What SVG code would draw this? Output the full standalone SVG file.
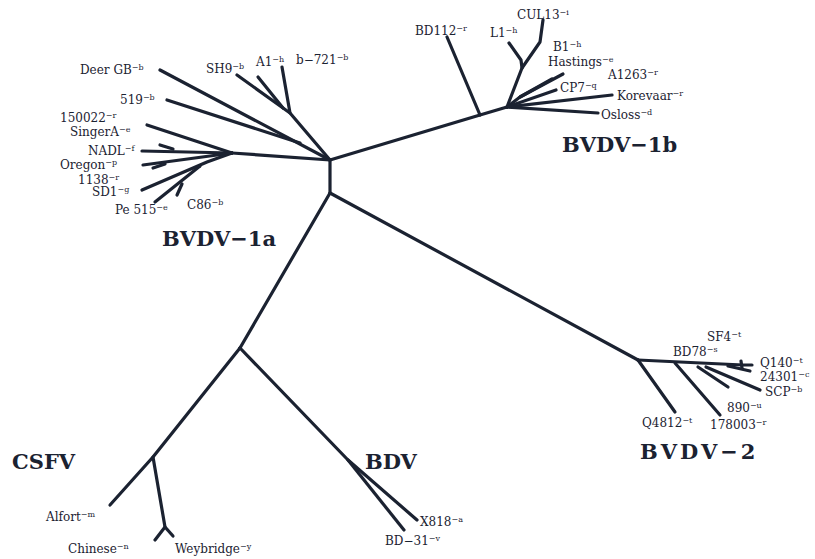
<svg xmlns="http://www.w3.org/2000/svg" width="815" height="559" viewBox="0 0 815 559">
<style>
.e{fill:none;stroke:#1b2231;stroke-width:3.2;stroke-linecap:round;stroke-linejoin:round}
.t{font-family:"DejaVu Serif","Liberation Serif",serif;font-size:12px;fill:#1b2231}
.s{font-size:8px}
.g{font-family:"DejaVu Serif","Liberation Serif",serif;font-size:21px;font-weight:bold;fill:#1b2231}
</style>
<rect width="815" height="559" fill="#fff"/>
<g id="connectors" class="e">
<path d="M330,160 L330,193"/>
<path d="M330,160 L480,115 L507,107"/>
<path d="M330,193 L240,348"/>
<path d="M330,193 L638,360"/>
<path d="M160,70 L330,160"/>
<path d="M167,100 L300,143"/>
<path d="M330,160 L290,113 L237,75"/>
<path d="M258,77 L283,108"/>
<path d="M282,67 L290,113"/>
<path d="M232,153 L330,160"/>
<path d="M147,125 L232,153"/>
<path d="M142,151 L232,153"/>
<path d="M160,145 L173,149"/>
<path d="M143,165 L232,153"/>
<path d="M153,168 L165,164"/>
<path d="M142,190 L207,162 L232,153"/>
<path d="M155,202 L200,166"/>
<path d="M177,195 L182,184"/>
<path d="M480,115 L447,37"/>
<path d="M507,107 L522,68 L540,42 L543,20"/>
<path d="M509,43 L521,60 L522,68"/>
<path d="M507,107 L520,97 L552,79"/>
<path d="M520,97 L563,74"/>
<path d="M507,107 L556,90"/>
<path d="M507,107 L612,95"/>
<path d="M507,107 L598,113"/>
<path d="M638,360 L675,412"/>
<path d="M638,360 L743,365 L752,365"/>
<path d="M675,363 L720,415"/>
<path d="M698,367 L728,387"/>
<path d="M706,367 L760,390"/>
<path d="M728,366 L750,371"/>
<path d="M741,361 L742,368"/>
<path d="M240,348 L153,457 L110,505"/>
<path d="M153,457 L165,527 L155,540"/>
<path d="M165,527 L173,536"/>
<path d="M240,348 L348,460 L417,520"/>
<path d="M348,460 L404,530"/>
</g>
<g id="deer"><text class="t" x="80" y="74">Deer GB<tspan class="s" dy="-4">−b</tspan></text></g>
<g id="sh9"><text class="t" x="206" y="73">SH9<tspan class="s" dy="-4">−b</tspan></text></g>
<g id="a1"><text class="t" x="256" y="66">A1<tspan class="s" dy="-4">−h</tspan></text></g>
<g id="b721"><text class="t" x="296" y="64">b−721<tspan class="s" dy="-4">−b</tspan></text></g>
<g id="n519"><text class="t" x="120" y="104">519<tspan class="s" dy="-4">−b</tspan></text></g>
<g id="n150022"><text class="t" x="60" y="122">150022<tspan class="s" dy="-4">−r</tspan></text></g>
<g id="singera"><text class="t" x="70" y="136">SingerA<tspan class="s" dy="-4">−e</tspan></text></g>
<g id="nadl"><text class="t" x="88" y="155">NADL<tspan class="s" dy="-4">−f</tspan></text></g>
<g id="oregon"><text class="t" x="60" y="169">Oregon<tspan class="s" dy="-4">−p</tspan></text></g>
<g id="n1138"><text class="t" x="78" y="184">1138<tspan class="s" dy="-4">−r</tspan></text></g>
<g id="sd1"><text class="t" x="92" y="196">SD1<tspan class="s" dy="-4">−g</tspan></text></g>
<g id="pe515"><text class="t" x="115" y="214">Pe 515<tspan class="s" dy="-4">−e</tspan></text></g>
<g id="c86"><text class="t" x="187" y="209">C86<tspan class="s" dy="-4">−b</tspan></text></g>
<g id="bvdv1a"><text class="g" x="162" y="246">BVDV−1a</text></g>
<g id="bd112"><text class="t" x="415" y="35">BD112<tspan class="s" dy="-4">−r</tspan></text></g>
<g id="cul13"><text class="t" x="517" y="19">CUL13<tspan class="s" dy="-4">−i</tspan></text></g>
<g id="l1"><text class="t" x="490" y="37">L1<tspan class="s" dy="-4">−h</tspan></text></g>
<g id="b1"><text class="t" x="553" y="51">B1<tspan class="s" dy="-4">−h</tspan></text></g>
<g id="hastings"><text class="t" x="548" y="66">Hastings<tspan class="s" dy="-4">−e</tspan></text></g>
<g id="a1263"><text class="t" x="608" y="79">A1263<tspan class="s" dy="-4">−r</tspan></text></g>
<g id="cp7"><text class="t" x="560" y="92">CP7<tspan class="s" dy="-4">−q</tspan></text></g>
<g id="korevaar"><text class="t" x="617" y="100">Korevaar<tspan class="s" dy="-4">−r</tspan></text></g>
<g id="osloss"><text class="t" x="601" y="119">Osloss<tspan class="s" dy="-4">−d</tspan></text></g>
<g id="bvdv1b"><text class="g" x="562" y="152">BVDV−1b</text></g>
<g id="sf4"><text class="t" x="707" y="341">SF4<tspan class="s" dy="-4">−t</tspan></text></g>
<g id="bd78"><text class="t" x="673" y="356">BD78<tspan class="s" dy="-4">−s</tspan></text></g>
<g id="q140"><text class="t" x="760" y="367">Q140<tspan class="s" dy="-4">−t</tspan></text></g>
<g id="n24301"><text class="t" x="760" y="381">24301<tspan class="s" dy="-4">−c</tspan></text></g>
<g id="scp"><text class="t" x="765" y="396">SCP<tspan class="s" dy="-4">−b</tspan></text></g>
<g id="n890"><text class="t" x="727" y="412">890<tspan class="s" dy="-4">−u</tspan></text></g>
<g id="q4812"><text class="t" x="642" y="427">Q4812<tspan class="s" dy="-4">−t</tspan></text></g>
<g id="n178003"><text class="t" x="710" y="429">178003<tspan class="s" dy="-4">−r</tspan></text></g>
<g id="bvdv2"><text class="g" x="640" y="459" letter-spacing="3">BVDV−2</text></g>
<g id="csfv"><text class="g" x="12" y="469">CSFV</text></g>
<g id="alfort"><text class="t" x="46" y="521">Alfort<tspan class="s" dy="-4">−m</tspan></text></g>
<g id="chinese"><text class="t" x="68" y="553">Chinese<tspan class="s" dy="-4">−n</tspan></text></g>
<g id="weybridge"><text class="t" x="175" y="553">Weybridge<tspan class="s" dy="-4">−y</tspan></text></g>
<g id="bdv"><text class="g" x="365" y="469">BDV</text></g>
<g id="x818"><text class="t" x="420" y="526">X818<tspan class="s" dy="-4">−a</tspan></text></g>
<g id="bd31"><text class="t" x="385" y="545">BD−31<tspan class="s" dy="-4">−v</tspan></text></g>
</svg>
